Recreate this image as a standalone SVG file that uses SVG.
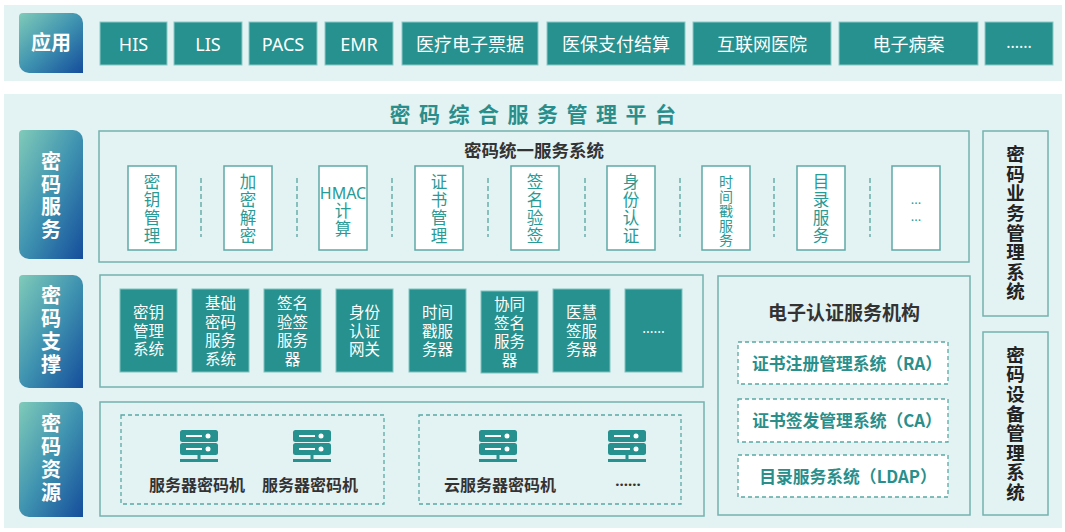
<svg xmlns="http://www.w3.org/2000/svg" width="1065" height="532" viewBox="0 0 1065 532">
<defs>
<linearGradient id="lg" x1="0" y1="0" x2="1" y2="1">
<stop offset="0" stop-color="#80cbb9"/>
<stop offset="0.5" stop-color="#3f93b0"/>
<stop offset="1" stop-color="#154d9c"/>
</linearGradient>
<g id="srv">
<rect x="-19" y="0" width="38" height="12" rx="2.5" fill="#26918e"/>
<rect x="-19" y="13" width="38" height="12" rx="2.5" fill="#26918e"/>
<path d="M-13 6H3M-13 19H3" stroke="#fff" stroke-width="2"/>
<circle cx="9" cy="6" r="2.5" fill="#fff"/>
<circle cx="9" cy="19" r="2.5" fill="#fff"/>
<rect x="-1.5" y="25" width="3" height="4" fill="#26918e"/>
<rect x="-19" y="29" width="38" height="3" fill="#26918e"/>
</g>
</defs>
<style>
text{font-family:"Noto Sans CJK SC","Noto Sans",sans-serif;text-anchor:middle}
.v{writing-mode:vertical-rl;text-orientation:upright;text-anchor:start}
.panel{fill:#e3f2f3}
.lbl{fill:url(#lg)}
.lt{fill:#fff;font-size:20px;font-weight:bold}
.app{fill:#26918e;stroke:#8ccac6;stroke-width:1}
.at{fill:#fff;font-size:18px}
.lat{font-family:"Noto Sans","Noto Sans CJK SC",sans-serif}
.frame{fill:none;stroke:#74b2af;stroke-width:1.5}
.svc{fill:#fff;stroke:#5ea9a6;stroke-width:1.5}
.st{fill:#2a9a95;font-size:16.5px}
.sv{letter-spacing:1.5px}
.sep{stroke:#6aaeab;stroke-width:1.5;stroke-dasharray:5 3;fill:none}
.sup{fill:#26918e;stroke:#80c4c0;stroke-width:1}
.supt{fill:#fff;font-size:15.5px}
.dbox{fill:#fff;stroke:#5aa8a4;stroke-width:1.3;stroke-dasharray:4 3}
.dgrp{fill:none;stroke:#5aa8a4;stroke-width:1.3;stroke-dasharray:4 3}
.ct{fill:#2a8f8b;font-size:16.8px;font-weight:bold}
.dk{fill:#333;font-weight:bold}
.vt{fill:#222;font-size:18.5px;font-weight:bold;letter-spacing:1.1px}
</style>

<rect class="panel" x="4" y="5" width="1058" height="76"/>
<rect class="panel" x="4" y="94" width="1058" height="434"/>

<g id="layer-app">
<path class="lbl" d="M23 13H73A10 10 0 0 1 83 23V73H29A10 10 0 0 1 19 63V17A4 4 0 0 1 23 13Z"/>
<text class="lt" x="51" y="50">应用</text>
</g>
<g id="app-his"><rect class="app" x="100" y="22" width="67" height="43"/><text class="at lat" x="133.5" y="51">HIS</text></g>
<g id="app-lis"><rect class="app" x="174" y="22" width="68" height="43"/><text class="at lat" x="208" y="51">LIS</text></g>
<g id="app-pacs"><rect class="app" x="249" y="22" width="68" height="43"/><text class="at lat" x="283" y="51">PACS</text></g>
<g id="app-emr"><rect class="app" x="325" y="22" width="68" height="43"/><text class="at lat" x="359" y="51">EMR</text></g>
<g id="app-bill"><rect class="app" x="402" y="22" width="136" height="43"/><text class="at" x="470" y="51">医疗电子票据</text></g>
<g id="app-pay"><rect class="app" x="547" y="22" width="138" height="43"/><text class="at" x="616" y="51">医保支付结算</text></g>
<g id="app-net"><rect class="app" x="693" y="22" width="138" height="43"/><text class="at" x="762" y="51">互联网医院</text></g>
<g id="app-emr2"><rect class="app" x="839" y="22" width="139" height="43"/><text class="at" x="908.5" y="51">电子病案</text></g>
<g id="app-more"><rect class="app" x="985" y="22" width="68" height="43"/><text class="at lat" x="1019" y="48" style="font-size:16px">......</text></g>

<text x="537" y="121.5" style="fill:#2a8e8b;font-size:21px;font-weight:bold;letter-spacing:8.5px">密码综合服务管理平台</text>

<g id="layer-service">
<path class="lbl" d="M23 130H73A10 10 0 0 1 83 140V259H29A10 10 0 0 1 19 249V134A4 4 0 0 1 23 130Z"/>
<text class="lt v" x="51" y="151.4" style="letter-spacing:2.7px">密码服务</text>
</g>
<g id="svc-system">
<rect class="frame" x="99" y="131" width="870" height="131"/>
<text class="dk" x="534" y="157" style="font-size:17.5px">密码统一服务系统</text>
</g>
<g id="svc-key"><rect class="svc" x="128" y="166" width="48" height="84"/><text class="st v sv" x="152" y="173.5">密钥管理</text></g>
<g id="svc-enc"><rect class="svc" x="224" y="166" width="48" height="84"/><text class="st v sv" x="248" y="173.5">加密解密</text></g>
<g id="svc-hmac"><rect class="svc" x="319" y="166" width="48" height="84"/><text class="st lat" x="343" y="199" style="font-size:16px">HMAC</text><text class="st v sv" x="343" y="202.5">计算</text></g>
<g id="svc-cert"><rect class="svc" x="415" y="166" width="48" height="84"/><text class="st v sv" x="439" y="173.5">证书管理</text></g>
<g id="svc-sign"><rect class="svc" x="511" y="166" width="48" height="84"/><text class="st v sv" x="535" y="173.5">签名验签</text></g>
<g id="svc-id"><rect class="svc" x="607" y="166" width="48" height="84"/><text class="st v sv" x="631" y="173.5">身份认证</text></g>
<g id="svc-ts"><rect class="svc" x="702" y="166" width="48" height="84"/><text class="st v" x="726" y="174.7" style="font-size:14px;letter-spacing:0.5px">时间戳服务</text></g>
<g id="svc-dir"><rect class="svc" x="797" y="166" width="48" height="84"/><text class="st v sv" x="821" y="173.5">目录服务</text></g>
<g id="svc-more"><rect class="svc" x="892" y="166" width="48" height="84"/><text class="st lat" x="916" y="204" style="font-size:13px">...</text><text class="st lat" x="916" y="221" style="font-size:13px">...</text></g>

<g id="connectors">
<path class="sep" d="M201 178V237M297 178V237M392 178V237M488 178V237M585 178V237M680 178V237M774 178V237M870 178V237"/>
</g>

<g id="layer-support">
<path class="lbl" d="M23 275H73A10 10 0 0 1 83 285V388H29A10 10 0 0 1 19 378V279A4 4 0 0 1 23 275Z"/>
<text class="lt v" x="51" y="285.4" style="letter-spacing:3px">密码支撑</text>
<rect class="frame" x="100" y="275" width="603" height="112"/>
</g>
<g id="sup-key"><rect class="sup" x="120" y="289" width="57" height="83"/><text class="supt"><tspan x="148.5" y="318">密钥</tspan><tspan x="148.5" y="336.5">管理</tspan><tspan x="148.5" y="355">系统</tspan></text></g>
<g id="sup-base"><rect class="sup" x="192" y="289" width="57" height="83"/><text class="supt"><tspan x="220.5" y="309">基础</tspan><tspan x="220.5" y="327.5">密码</tspan><tspan x="220.5" y="346">服务</tspan><tspan x="220.5" y="364.5">系统</tspan></text></g>
<g id="sup-sign"><rect class="sup" x="264" y="289" width="57" height="83"/><text class="supt"><tspan x="292.5" y="309">签名</tspan><tspan x="292.5" y="327.5">验签</tspan><tspan x="292.5" y="346">服务</tspan><tspan x="292.5" y="364.5">器</tspan></text></g>
<g id="sup-id"><rect class="sup" x="336" y="289" width="57" height="83"/><text class="supt"><tspan x="364.5" y="318">身份</tspan><tspan x="364.5" y="336.5">认证</tspan><tspan x="364.5" y="355">网关</tspan></text></g>
<g id="sup-ts"><rect class="sup" x="409" y="289" width="57" height="83"/><text class="supt"><tspan x="437.5" y="318">时间</tspan><tspan x="437.5" y="336.5">戳服</tspan><tspan x="437.5" y="355">务器</tspan></text></g>
<g id="sup-co"><rect class="sup" x="481" y="291" width="57" height="82"/><text class="supt"><tspan x="509.5" y="310">协同</tspan><tspan x="509.5" y="328.5">签名</tspan><tspan x="509.5" y="347">服务</tspan><tspan x="509.5" y="365.5">器</tspan></text></g>
<g id="sup-med"><rect class="sup" x="553" y="289" width="57" height="83"/><text class="supt"><tspan x="581.5" y="318">医慧</tspan><tspan x="581.5" y="336.5">签服</tspan><tspan x="581.5" y="355">务器</tspan></text></g>
<g id="sup-more"><rect class="sup" x="625" y="289" width="57" height="83"/><text class="supt lat" x="653.5" y="333" style="font-size:14px">......</text></g>

<g id="layer-resource">
<path class="lbl" d="M23 402H73A10 10 0 0 1 83 412V517H29A10 10 0 0 1 19 507V406A4 4 0 0 1 23 402Z"/>
<text class="lt v" x="51" y="413.4" style="letter-spacing:3px">密码资源</text>
<rect class="frame" x="100" y="402" width="604" height="114"/>
<rect class="dgrp" x="121" y="415" width="263" height="89"/>
<rect class="dgrp" x="419" y="415" width="262" height="89"/>
</g>
<g id="res-hsm1"><use href="#srv" x="199" y="430"/><text class="dk" x="197" y="491" style="font-size:16px">服务器密码机</text></g>
<g id="res-hsm2"><use href="#srv" x="312" y="430"/><text class="dk" x="310" y="491" style="font-size:16px">服务器密码机</text></g>
<g id="res-cloud"><use href="#srv" x="498" y="430"/><text class="dk" x="500" y="491" style="font-size:16px">云服务器密码机</text></g>
<g id="res-more"><use href="#srv" x="627" y="430"/><text class="dk lat" x="628" y="486" style="font-size:15px">......</text></g>

<g id="ca-org">
<rect class="frame" x="718" y="276" width="252" height="239"/>
<text class="dk" x="844" y="320" style="font-size:19px">电子认证服务机构</text>
</g>
<g id="ca-ra"><rect class="dbox" x="738" y="342" width="210" height="42"/><text class="ct" x="847" y="370">证书注册管理系统（RA）</text></g>
<g id="ca-ca"><rect class="dbox" x="738" y="399" width="210" height="43"/><text class="ct" x="847" y="426.5">证书签发管理系统（CA）</text></g>
<g id="ca-ldap"><rect class="dbox" x="738" y="455" width="210" height="42"/><text class="ct" x="848" y="483">目录服务系统（LDAP）</text></g>

<g id="biz-mgmt">
<rect class="frame" x="983" y="131" width="65" height="185"/>
<text class="vt v" x="1015.5" y="145">密码业务管理系统</text>
</g>
<g id="dev-mgmt">
<rect class="frame" x="983" y="332" width="65" height="183"/>
<text class="vt v" x="1015.5" y="345.5">密码设备管理系统</text>
</g>
</svg>
